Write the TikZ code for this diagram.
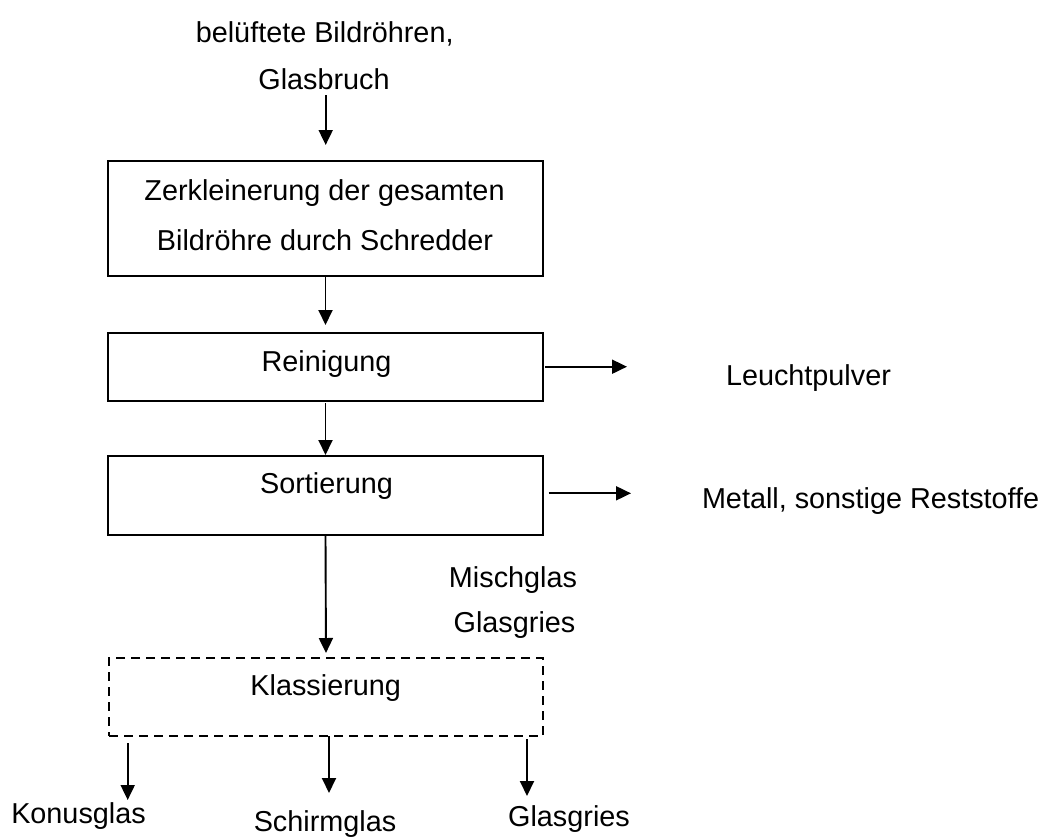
\documentclass[tikz,border=0pt]{standalone}
\usepackage{fontspec}
\setmainfont{Liberation Sans}
\usetikzlibrary{arrows.meta}
\begin{document}
\begin{tikzpicture}[x=1pt,y=-1pt,
  every node/.style={font=\fontsize{28.8}{34}\selectfont, inner sep=0pt, outer sep=0pt},
  lbl/.style={anchor=base},
  box/.style={draw, line width=2pt, rectangle, minimum width=435pt},
  dbox/.style={draw, line width=1.8pt, dash pattern=on 9pt off 6pt, rectangle, minimum width=434pt},
  arr/.style={line width=1.9pt, -{Triangle[length=15pt,width=14pt]}}]
\useasboundingbox (0,0) rectangle (1047,838);

% input text
\node[lbl] (in1) at (324.7,42) {belüftete Bildröhren,};
\node[lbl] (in2) at (324,89.3) {Glasbruch};

% boxes
\node[box, minimum height=115.3pt] (b1) at (325.5,218.35) {};
\node[lbl] (t1a) at (324.5,200) {Zerkleinerung der gesamten};
\node[lbl] (t1b) at (325,250) {Bildröhre durch Schredder};

\node[box, minimum height=67.4pt] (b2) at (325.5,367) {};
\node[lbl] (t2) at (326.5,371) {Reinigung};

\node[box, minimum height=79pt] (b3) at (325.5,495.5) {};
\node[lbl] (t3) at (326.5,493) {Sortierung};

\node[dbox, minimum height=78pt] (b4) at (326,697) {};
\node[lbl] (t4) at (325.7,695) {Klassierung};

% side outputs
\node[anchor=base west] (lp) at (726,385) {Leuchtpulver};
\node[anchor=base west] (me) at (702,508) {Metall, sonstige Reststoffe};

% intermediate labels
\node[lbl] (mg) at (513,587) {Mischglas};
\node[lbl] (gg) at (514.5,632) {Glasgries};

% outputs
\node[lbl] (ko) at (78.5,823) {Konusglas};
\node[lbl] (sg) at (325,831) {Schirmglas};
\node[lbl] (gr) at (569,826) {Glasgries};

% connectors
\coordinate (s0) at (325.7,95);
\draw[arr, shorten >=15.7pt] (s0) -- (s0 |- b1.north);
\draw[arr, shorten >=8.3pt] (b1.south) -- (b2.north);
\draw[arr, shorten <=2.3pt, shorten >=1pt] (b2.south) -- (b3.north);
\draw[arr, shorten >=5pt] (b3.south) -- (b4.north);

\coordinate (e1) at (627,366.7);
\draw[arr, shorten <=2.3pt] (b2.east |- e1) -- (e1);
\coordinate (e2) at (631,493.3);
\draw[arr, shorten <=5.7pt] (b3.east |- e2) -- (e2);

\coordinate (k1) at (127.7,800);
\draw[arr, shorten <=7pt] (k1 |- b4.south) -- (k1);
\coordinate (k2) at (329,793);
\draw[arr] (k2 |- b4.south) -- (k2);
\coordinate (k3) at (527,796);
\draw[arr, shorten <=3pt] (k3 |- b4.south) -- (k3);
\end{tikzpicture}
\end{document}
